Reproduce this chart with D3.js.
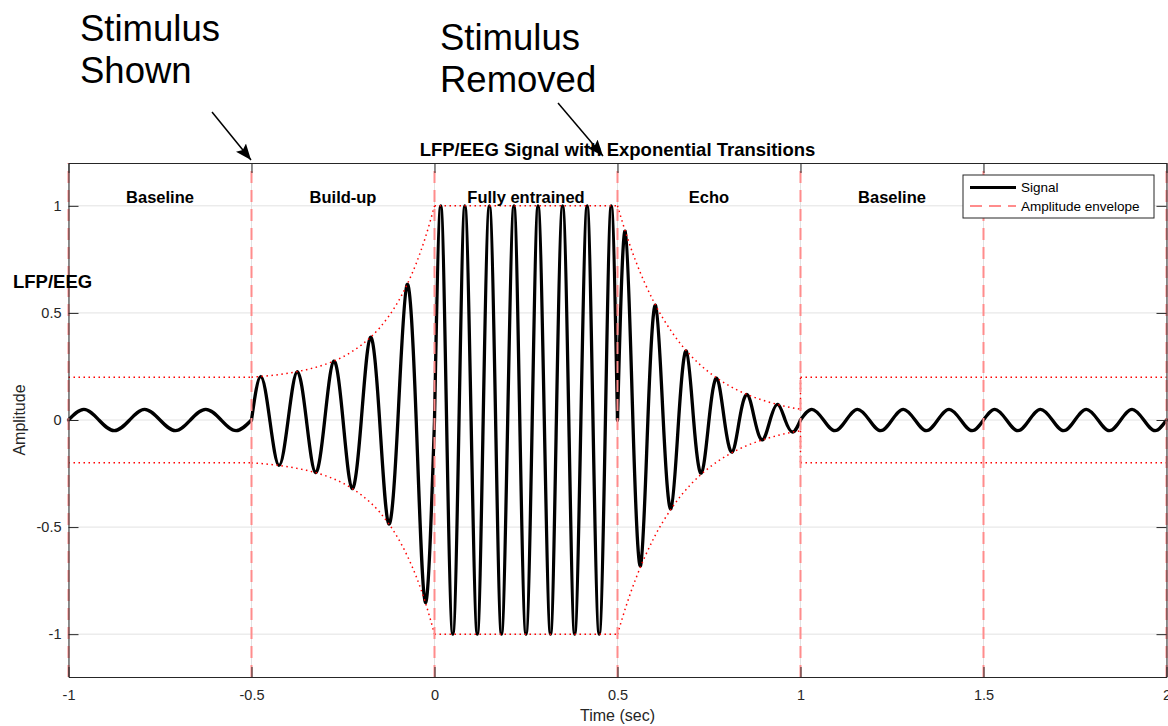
<!DOCTYPE html>
<html>
<head>
<meta charset="utf-8">
<script src="https://cdn.jsdelivr.net/npm/d3@7"></script>
<style>
  body { margin: 0; background: #fff; }
  svg { display: block; font-family: "Liberation Sans", Arial, Helvetica, sans-serif; }
</style>
</head>
<body>
<svg id="chart" width="1168" height="726"></svg>
<script>
// ---------------- DATA ----------------
const xTicks = [-1, -0.5, 0, 0.5, 1, 1.5, 2];
const yTicks = [-1, -0.5, 0, 0.5, 1];
const xTickLabels = ["-1", "-0.5", "0", "0.5", "1", "1.5", "2"];
const yTickLabels = ["-1", "-0.5", "0", "0.5", "1"];
const phaseLines = [-1, -0.5, 0, 0.5, 1, 1.5, 2];
const phaseNames = ["Baseline", "Build-up", "Fully entrained", "Echo", "Baseline"];
const phaseCenters = [-0.75, -0.25, 0.25, 0.75, 1.25];
const phaseLabelLevel = 1.04;

// Signal trace: zero crossings and extrema [time, amplitude], per phase
const sigBaselinePre = [[-1,0],[-0.958,0.05],[-0.917,0],[-0.875,-0.05],[-0.833,0],[-0.792,0.05],[-0.75,0],
  [-0.708,-0.05],[-0.667,0],[-0.625,0.05],[-0.583,0],[-0.542,-0.05],[-0.5,0]];
const sigBuildUp = [[-0.5,0],[-0.475,0.203],[-0.45,0],[-0.425,-0.212],[-0.4,0],[-0.375,0.226],[-0.35,0],
  [-0.325,-0.246],[-0.3,0],[-0.275,0.275],[-0.25,0],[-0.225,-0.32],[-0.2,0],[-0.175,0.386],[-0.15,0],
  [-0.125,-0.485],[-0.1,0],[-0.075,0.632],[-0.05,0],[-0.025,-0.852],[0,0]];
const sigEntrained = [[0,0],[0.017,1],[0.033,0],[0.05,-1],[0.067,0],[0.083,1],[0.1,0],[0.117,-1],[0.133,0],
  [0.15,1],[0.167,0],[0.183,-1],[0.2,0],[0.217,1],[0.233,0],[0.25,-1],[0.267,0],[0.283,1],[0.3,0],
  [0.317,-1],[0.333,0],[0.35,1],[0.367,0],[0.383,-1],[0.4,0],[0.417,1],[0.433,0],[0.45,-1],[0.467,0],
  [0.483,1],[0.5,0]];
const sigEcho = [[0.5,0],[0.521,0.882],[0.542,0],[0.563,-0.68],[0.583,0],[0.604,0.535],[0.625,0],
  [0.646,-0.414],[0.667,0],[0.688,0.322],[0.708,0],[0.729,-0.248],[0.75,0],[0.771,0.195],[0.792,0],
  [0.813,-0.15],[0.833,0],[0.854,0.119],[0.875,0],[0.896,-0.093],[0.917,0],[0.938,0.073],[0.958,0],
  [0.979,-0.056],[1,0]];
const sigBaselinePost = [[1,0],[1.031,0.05],[1.063,0],[1.094,-0.05],[1.125,0],[1.156,0.05],[1.188,0],
  [1.219,-0.05],[1.25,0],[1.281,0.05],[1.313,0],[1.344,-0.05],[1.375,0],[1.406,0.05],[1.438,0],
  [1.469,-0.05],[1.5,0],[1.531,0.05],[1.563,0],[1.594,-0.05],[1.625,0],[1.656,0.05],[1.688,0],
  [1.719,-0.05],[1.75,0],[1.781,0.05],[1.813,0],[1.844,-0.05],[1.875,0],[1.906,0.05],[1.938,0],
  [1.969,-0.05],[2,0]];

// Amplitude envelope (upper half; the lower half mirrors it)
const envBaselinePre = [[-1,0.2],[-0.5,0.2]];
const envBuildUp = [[-0.5,0.2],[-0.45,0.207],[-0.4,0.218],[-0.35,0.235],[-0.3,0.259],[-0.25,0.295],
  [-0.2,0.35],[-0.15,0.43],[-0.1,0.551],[-0.075,0.632],[-0.05,0.731],[-0.025,0.852],[0,1]];
const envEntrained = [[0,1],[0.5,1]];
const envEcho = [[0.5,1],[0.525,0.861],[0.55,0.741],[0.6,0.549],[0.65,0.407],[0.7,0.301],[0.75,0.223],
  [0.8,0.165],[0.85,0.122],[0.9,0.091],[0.95,0.067],[1,0.05]];
const envJump = [[1,0.05],[1,0.2]];
const envBaselinePost = [[1,0.2],[2,0.2]];

const legendNames = ["Signal", "Amplitude envelope"];
const annotations = [
  { lines: ["Stimulus", "Shown"], tx: 80, ty: 41, ax1: 212, ay1: 112, ax2: 251, ay2: 160 },
  { lines: ["Stimulus", "Removed"], tx: 440, ty: 50, ax1: 558, ay1: 103, ax2: 603, ay2: 156 }
];

// ---------------- DRAWING ----------------
const svg = d3.select("#chart");
const x = d3.scaleLinear().domain([-1, 2]).range([68.5, 1166.5]);
const y = d3.scaleLinear().domain([-1.2, 1.2]).range([677, 163]);
const axisColor = "#262626";

// grid
const grid = svg.append("g");
grid.selectAll(".gx").data(xTicks).join("line")
  .attr("x1", d => x(d)).attr("x2", d => x(d)).attr("y1", y(-1.2)).attr("y2", y(1.2))
  .attr("stroke", "#e2e2e2").attr("stroke-width", 1);
grid.selectAll(".gy").data(yTicks).join("line")
  .attr("x1", x(-1)).attr("x2", x(2)).attr("y1", d => y(d)).attr("y2", d => y(d))
  .attr("stroke", "#e2e2e2").attr("stroke-width", 1);

// signal
const sigLine = d3.line().x(d => x(d[0])).y(d => y(d[1])).curve(d3.curveNatural);
const sigG = svg.append("g");
[sigBaselinePre, sigBuildUp, sigEntrained, sigEcho, sigBaselinePost].forEach(seg => {
  sigG.append("path").attr("d", sigLine(seg)).attr("fill", "none")
    .attr("stroke", "#000").attr("stroke-width", 3.3)
    .attr("stroke-linejoin", "round").attr("stroke-linecap", "round");
});

// envelope
const envLine = d3.line().x(d => x(d[0])).y(d => y(d[1])).curve(d3.curveMonotoneX);
const envLinear = d3.line().x(d => x(d[0])).y(d => y(d[1]));
const envG = svg.append("g");
[envBaselinePre, envBuildUp, envEntrained, envEcho, envBaselinePost].forEach(seg => {
  [1, -1].forEach(s => {
    envG.append("path").attr("d", envLine(seg.map(p => [p[0], s * p[1]])))
      .attr("fill", "none").attr("stroke", "#ff0000").attr("stroke-width", 1.5)
      .attr("stroke-dasharray", "1.5,3.5");
  });
});
[1, -1].forEach(s => {
  envG.append("path").attr("d", envLinear(envJump.map(p => [p[0], s * p[1]])))
    .attr("fill", "none").attr("stroke", "#ff0000").attr("stroke-width", 1.5)
    .attr("stroke-dasharray", "1.5,3.5");
});

// phase boundary lines
svg.append("g").selectAll("line").data(phaseLines).join("line")
  .attr("x1", d => x(d)).attr("x2", d => x(d)).attr("y1", y(-1.2)).attr("y2", y(1.2))
  .attr("stroke", "#ff8c8c").attr("stroke-width", 2).attr("stroke-dasharray", "12,7");

// axes (box with inward ticks)
function styleAxis(g) {
  g.selectAll(".domain").attr("stroke", axisColor).attr("stroke-width", 1);
  g.selectAll(".tick line").attr("stroke", axisColor).attr("stroke-width", 1);
  g.selectAll(".tick text").attr("fill", axisColor).style("font-size", "14.5px")
    .style("font-family", "'Liberation Sans', Arial, Helvetica, sans-serif");
}
svg.append("g").attr("transform", `translate(0,${y(-1.2)})`)
  .call(d3.axisBottom(x).tickValues(xTicks).tickFormat((d, i) => xTickLabels[i])
    .tickSizeInner(-10).tickSizeOuter(0).tickPadding(13)).call(styleAxis);
svg.append("g").attr("transform", `translate(0,${y(1.2)})`)
  .call(d3.axisTop(x).tickValues(xTicks).tickFormat("").tickSizeInner(-10).tickSizeOuter(0)).call(styleAxis);
svg.append("g").attr("transform", `translate(${x(-1)},0)`)
  .call(d3.axisLeft(y).tickValues(yTicks).tickFormat((d, i) => yTickLabels[i])
    .tickSizeInner(-10).tickSizeOuter(0).tickPadding(7)).call(styleAxis);
svg.append("g").attr("transform", `translate(${x(2)},0)`)
  .call(d3.axisRight(y).tickValues(yTicks).tickFormat("").tickSizeInner(-10).tickSizeOuter(0)).call(styleAxis);

// phase labels
svg.append("g").selectAll("text").data(phaseNames).join("text")
  .attr("x", (d, i) => x(phaseCenters[i])).attr("y", y(phaseLabelLevel))
  .attr("text-anchor", "middle").attr("dominant-baseline", "central")
  .style("font-size", "16.5px").style("font-weight", "bold").attr("fill", "#000")
  .text(d => d);

// title, axis labels
svg.append("text").attr("x", (x(-1) + x(2)) / 2).attr("y", 156)
  .attr("text-anchor", "middle").style("font-size", "18.5px").style("font-weight", "bold")
  .attr("fill", "#000").text("LFP/EEG Signal with Exponential Transitions");
svg.append("text").attr("x", (x(-1) + x(2)) / 2).attr("y", 721)
  .attr("text-anchor", "middle").style("font-size", "16px").attr("fill", axisColor).text("Time (sec)");
svg.append("text").attr("transform", `translate(25,${y(0)}) rotate(-90)`)
  .attr("text-anchor", "middle").style("font-size", "16px").attr("fill", axisColor).text("Amplitude");
svg.append("text").attr("x", 13).attr("y", 288)
  .style("font-size", "18.5px").style("font-weight", "bold").attr("fill", "#000").text("LFP/EEG");

// legend
const lg = svg.append("g").attr("transform", "translate(963,175)");
lg.append("rect").attr("width", 191).attr("height", 43).attr("fill", "#fff")
  .attr("stroke", axisColor).attr("stroke-width", 1);
lg.append("line").attr("x1", 7).attr("x2", 53).attr("y1", 12.5).attr("y2", 12.5)
  .attr("stroke", "#000").attr("stroke-width", 3);
lg.append("line").attr("x1", 7).attr("x2", 53).attr("y1", 31).attr("y2", 31)
  .attr("stroke", "#ff8c8c").attr("stroke-width", 2).attr("stroke-dasharray", "12,7");
lg.selectAll("text").data(legendNames).join("text")
  .attr("x", 58).attr("y", (d, i) => i === 0 ? 12.5 : 31).attr("dominant-baseline", "central")
  .style("font-size", "13.5px").attr("fill", "#000").text(d => d);

// annotations
const defs = svg.append("defs");
defs.append("marker").attr("id", "arrowhead").attr("markerUnits", "userSpaceOnUse")
  .attr("viewBox", "0 -7 16 14").attr("refX", 16).attr("refY", 0)
  .attr("markerWidth", 16).attr("markerHeight", 14).attr("orient", "auto")
  .append("path").attr("d", "M0,-6.5L16,0L0,6.5L3,0Z").attr("fill", "#000");
const ann = svg.append("g");
annotations.forEach(a => {
  const t = ann.append("text").attr("x", a.tx).attr("y", a.ty).style("font-size", "36.5px").attr("fill", "#000");
  a.lines.forEach((l, i) => t.append("tspan").attr("x", a.tx).attr("dy", i === 0 ? 0 : 42).text(l));
  ann.append("line").attr("x1", a.ax1).attr("y1", a.ay1).attr("x2", a.ax2).attr("y2", a.ay2)
    .attr("stroke", "#000").attr("stroke-width", 1.5).attr("marker-end", "url(#arrowhead)");
});
</script>
</body>
</html>
